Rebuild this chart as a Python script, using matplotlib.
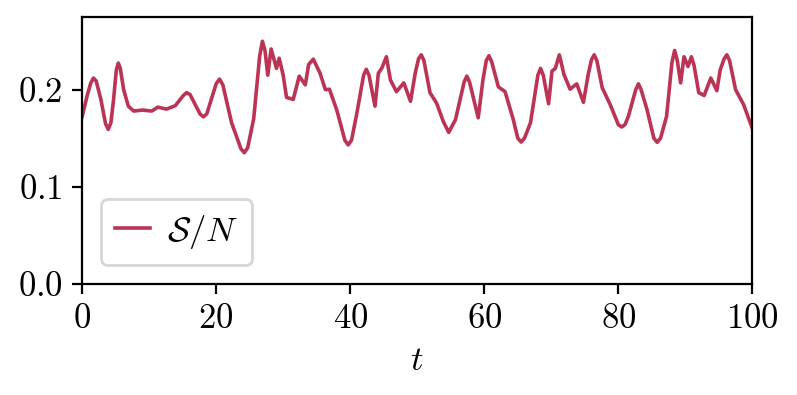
import matplotlib
matplotlib.use("Agg")
import matplotlib.pyplot as plt

plt.rcParams["font.family"] = "serif"
plt.rcParams["font.serif"] = ["cmr10"]
plt.rcParams["mathtext.fontset"] = "cm"
plt.rcParams["axes.formatter.use_mathtext"] = True
plt.rcParams["font.size"] = 12.5

# digitised S/N curve
t = [0.0, 0.8, 1.3, 1.7, 2.1, 2.8, 3.5, 3.9, 4.3, 4.7, 5.1, 5.4, 5.7, 6.2, 6.9,
     7.7, 9.0, 10.4, 11.3, 12.6, 13.9, 15.1, 15.6, 16.1, 17.6, 18.1, 18.6, 20.0,
     20.5, 21.0, 22.3, 23.7, 24.2, 24.7, 25.6, 26.5, 26.9, 27.3, 27.7, 28.2, 29.0,
     29.4, 30.0, 30.5, 31.5, 32.4, 33.3, 33.8, 34.5, 35.5, 36.3, 36.9, 38.0, 39.2,
     39.7, 40.2, 41.0, 42.0, 42.4, 42.8, 43.7, 44.2, 44.7, 45.4, 46.0, 46.9, 48.0,
     49.0, 49.7, 50.2, 50.6, 51.0, 51.9, 52.9, 53.9, 54.7, 55.7, 57.0, 57.4, 57.8,
     59.1, 59.8, 60.3, 60.7, 61.1, 62.1, 63.1, 64.3, 65.0, 65.5, 66.0, 66.9, 68.0,
     68.4, 68.8, 69.6, 70.1, 70.6, 71.2, 71.9, 72.8, 73.8, 74.8, 75.5, 76.0, 76.4,
     76.8, 77.6, 78.8, 80.0, 80.5, 81.0, 81.5, 82.6, 83.0, 83.4, 84.3, 85.3, 85.8,
     86.3, 87.2, 88.0, 88.4, 88.8, 89.3, 89.8, 90.4, 90.9, 91.3, 92.0, 92.8, 93.8,
     94.7, 95.2, 95.8, 96.2, 96.6, 97.5, 98.7, 100.0]
sn = [0.172, 0.195, 0.207, 0.212, 0.209, 0.190, 0.165, 0.159, 0.166, 0.190, 0.220,
      0.2275, 0.222, 0.200, 0.183, 0.178, 0.179, 0.178, 0.182, 0.180, 0.1835, 0.194,
      0.197, 0.195, 0.175, 0.172, 0.175, 0.206, 0.211, 0.205, 0.166, 0.139, 0.135,
      0.140, 0.170, 0.235, 0.250, 0.240, 0.215, 0.242, 0.222, 0.2325, 0.215, 0.192,
      0.190, 0.214, 0.205, 0.226, 0.2315, 0.217, 0.200, 0.2005, 0.179, 0.148, 0.143,
      0.148, 0.176, 0.215, 0.221, 0.215, 0.183, 0.217, 0.222, 0.234, 0.210, 0.198,
      0.207, 0.188, 0.217, 0.232, 0.236, 0.230, 0.197, 0.186, 0.167, 0.156, 0.169,
      0.208, 0.214, 0.208, 0.171, 0.210, 0.230, 0.235, 0.229, 0.203, 0.198, 0.170,
      0.150, 0.146, 0.150, 0.166, 0.215, 0.222, 0.215, 0.1855, 0.219, 0.222, 0.236,
      0.2155, 0.2005, 0.206, 0.187, 0.2155, 0.231, 0.236, 0.230, 0.202, 0.1845,
      0.164, 0.1615, 0.164, 0.1725, 0.200, 0.206, 0.200, 0.179, 0.150, 0.1457,
      0.150, 0.1725, 0.228, 0.2405, 0.230, 0.207, 0.234, 0.224, 0.234, 0.225,
      0.197, 0.194, 0.212, 0.199, 0.2205, 0.232, 0.236, 0.230, 0.200, 0.1845, 0.160]

fig, ax = plt.subplots(figsize=(3.985, 1.975), dpi=200)
fig.subplots_adjust(left=0.103, right=0.944, top=0.957, bottom=0.282)

ax.plot(t, sn, color="#bb3355", linewidth=1.3, label=r"$\mathcal{S}/N$")
ax.set_xlim(0, 100)
ax.set_ylim(0, 0.275)
ax.set_yticks([0.0, 0.1, 0.2])
ax.set_xticks([0, 20, 40, 60, 80, 100])
ax.set_xlabel(r"$t$", labelpad=4)
ax.legend(loc="lower left", handlelength=1.0, handletextpad=0.5,
          borderaxespad=0.55, fancybox=True)

fig.savefig("out.png", dpi=200)
